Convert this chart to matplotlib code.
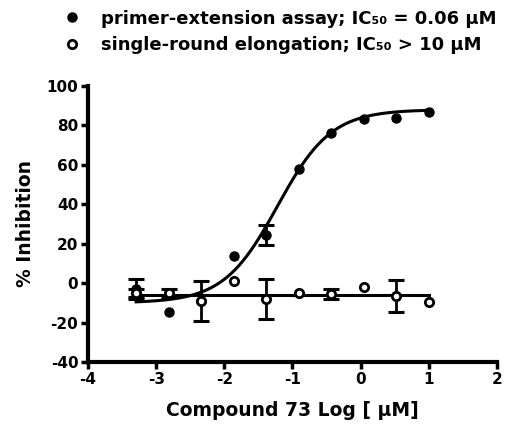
import numpy as np
import matplotlib
matplotlib.use("Agg")
import matplotlib.pyplot as plt

plt.rcParams["axes.unicode_minus"] = False

# log10 concentration (uM), 3-fold dilution series
log_conc = [-3.294, -2.817, -2.340, -1.863, -1.386, -0.908, -0.431, 0.046, 0.523, 1.0]

# primer-extension assay (filled)
pe_mean = [-3, -14.5, -9, 14, 24.5, 58, 76, 83, 84, 87]
pe_err = [5, 0, 0, 0, 5, 0, 0, 0, 0, 0]

# single-round elongation (open)
sr_mean = [-5, -5, -9, 1, -8, -5, -5.5, -2, -6.5, -9.5]
sr_err = [2, 2, 10, 0, 10, 0, 2.5, 0, 8, 0]

# fit parameters
pe_bottom, pe_top, pe_logic50, pe_hill = -10.0, 88.0, -1.22, 1.1
sr_level = -6.0

fig = plt.figure(figsize=(5.24, 4.32), dpi=100)
ax = fig.add_axes([0.168, 0.162, 0.780, 0.639])

xfit = np.linspace(log_conc[0], log_conc[-1], 300)
yfit = pe_bottom + (pe_top - pe_bottom) / (1 + 10 ** ((pe_logic50 - xfit) * pe_hill))
ax.plot(xfit, yfit, color="black", lw=2.2, zorder=2)
ax.plot([log_conc[0], log_conc[-1]], [sr_level, sr_level], color="black", lw=2.2, zorder=2)

# only draw error bars where there is an error
for means, errs in [(pe_mean, pe_err), (sr_mean, sr_err)]:
    xs = [x for x, e in zip(log_conc, errs) if e > 0]
    ys = [m for m, e in zip(means, errs) if e > 0]
    es = [e for e in errs if e > 0]
    ax.errorbar(xs, ys, yerr=es, fmt="none", ecolor="black",
                elinewidth=2, capsize=6, capthick=2.2, zorder=3)

h1, = ax.plot(log_conc, pe_mean, "o", color="black", ms=6.5, ls="none", zorder=4,
              label="primer-extension assay; IC₅₀ = 0.06 µM")
h2, = ax.plot(log_conc, sr_mean, "o", mfc="white", mec="black", mew=2, ms=6, ls="none",
              zorder=4, label="single-round elongation; IC₅₀ > 10 µM")

ax.set_xlim(-4, 2)
ax.set_ylim(-40, 100)
ax.set_xticks(range(-4, 3))
ax.set_yticks(range(-40, 101, 20))

for s in ["top", "right"]:
    ax.spines[s].set_visible(False)
for s in ["left", "bottom"]:
    ax.spines[s].set_linewidth(3)
ax.tick_params(width=2.5, length=5, labelsize=11, pad=2)
for lab in ax.get_xticklabels() + ax.get_yticklabels():
    lab.set_fontweight("bold")

ax.set_xlabel("Compound 73 Log [ µM]", fontsize=13.5, fontweight="bold", labelpad=10)
ax.set_ylabel("% Inhibition", fontsize=13.5, fontweight="bold", labelpad=8)

fig.legend(handles=[h1, h2], loc="upper left", bbox_to_anchor=(0.09, 1.015),
           frameon=False, handlelength=1.0, handletextpad=1.1, labelspacing=0.45,
           prop={"weight": "bold", "size": 13})

fig.savefig("out.png", dpi=100)
